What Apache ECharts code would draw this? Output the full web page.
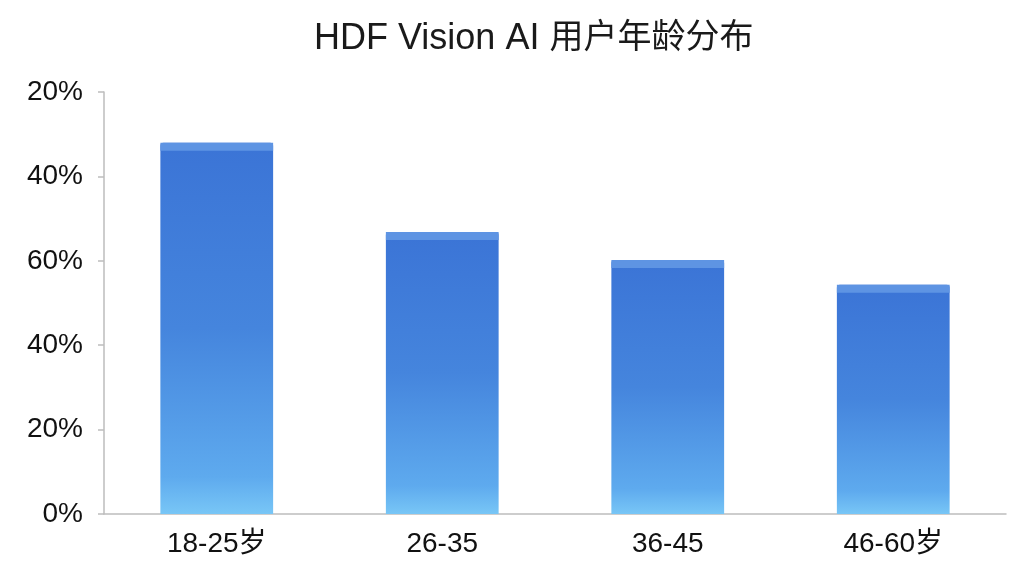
<!DOCTYPE html>
<html>
<head>
<meta charset="utf-8">
<script src="https://cdn.jsdelivr.net/npm/echarts@6/dist/echarts.min.js"></script>
<style>
  html, body { margin: 0; padding: 0; background: #fff; }
  #age_chart { width: 1024px; height: 576px; }
</style>
</head>
<body>
<div id="age_chart"></div>
<script>
   // 年龄段
   var age_arr = ['18-25岁', '26-35', '36-45', '46-60岁'];
   // 用户占比
   var ratio_arr = [88, 66.8, 60.2, 54.3];
   // y轴刻度文字(原图如此)
   var ytick_arr = ['0%', '20%', '40%', '60%', '40%', '20%'];

   var ageChart = echarts.init(document.getElementById('age_chart'));
   var fontBase = 'Liberation Sans, Arial, "Noto Sans CJK SC", sans-serif';

   var age_option = {
       title: {
           text: '{en|HDF Vision AI }{cn|用户年龄分布}',
           left: 309,
           top: 16,
           textStyle: {
               fontFamily: fontBase,
               fontWeight: 'normal',
               rich: {
                   en: { fontSize: 36, fontWeight: 'normal', color: '#1a1a1a', fontFamily: fontBase },
                   cn: { fontSize: 34, fontWeight: 'normal', color: '#1a1a1a', fontFamily: fontBase }
               }
           }
       },
       grid: { left: 104, right: 18, top: 92, bottom: 62 },
       xAxis: [
           {
               type: 'category',
               data: age_arr,
               axisLine: { lineStyle: { color: '#bdbdbd', width: 1.5 } },
               axisTick: { alignWithLabel: true, length: 8, lineStyle: { color: '#bdbdbd', width: 1.5 } },
               axisLabel: { fontSize: 28, color: '#111', margin: 16, fontFamily: fontBase }
           },
           {
               // 边界刻度
               type: 'category',
               data: age_arr,
               position: 'bottom',
               axisLine: { show: false },
               axisTick: { length: 8, lineStyle: { color: '#bdbdbd', width: 1.5 } },
               axisLabel: { show: false }
           }
       ],
       yAxis: {
           type: 'value',
           min: 0,
           max: 100,
           interval: 20,
           splitLine: { show: false },
           axisLine: { show: true, lineStyle: { color: '#bdbdbd', width: 1.5 } },
           axisTick: { show: true, length: 6, lineStyle: { color: '#bdbdbd', width: 1.5 } },
           axisLabel: {
               fontSize: 28, color: '#111', margin: 21, fontFamily: fontBase,
               formatter: function (v) { return ytick_arr[Math.round(v / 20)]; }
           }
       },
       series: [
           {
               name: '用户占比',
               type: 'bar',
               barWidth: '50%',
               data: ratio_arr,
               itemStyle: {
                   borderRadius: [3, 3, 0, 0],
                   color: new echarts.graphic.LinearGradient(0, 0, 0, 1, [
                       { offset: 0, color: '#3b74d6' },
                       { offset: 0.5, color: '#4585dd' },
                       { offset: 0.9, color: '#5eaaee' },
                       { offset: 1, color: '#78c6f6' }
                   ])
               }
           },
           {
               // 柱顶高光
               name: '顶部',
               type: 'pictorialBar',
               barWidth: '50%',
               symbol: 'rect',
               symbolSize: ['100%', 8],
               symbolPosition: 'end',
               z: 3,
               silent: true,
               data: ratio_arr,
               itemStyle: { color: '#5e94e3', borderRadius: [3, 3, 0, 0] }
           }
       ]
   };
   ageChart.setOption(age_option);
</script>
</body>
</html>
